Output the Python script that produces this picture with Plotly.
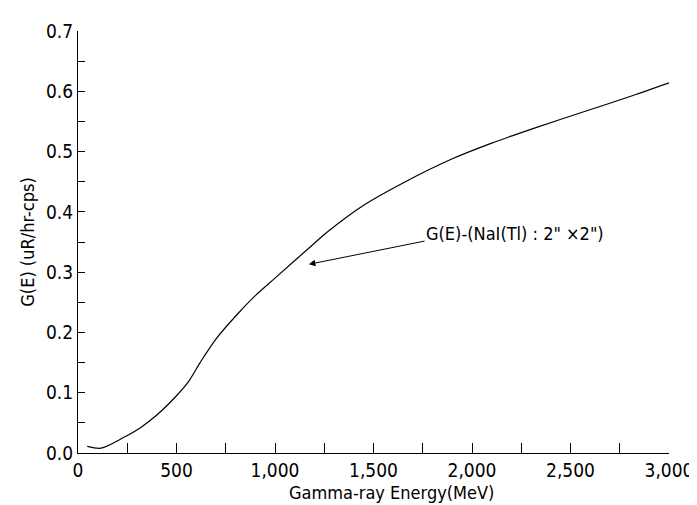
import plotly.graph_objects as go

energy = [47, 117, 233, 317, 400, 500, 560, 620, 700, 817, 900, 1000, 1200, 1267, 1450,
          1650, 1900, 2100, 2317, 2567, 2817, 3000]
g_e = [0.011, 0.008, 0.026, 0.042, 0.063, 0.095, 0.118, 0.150, 0.189, 0.233, 0.261, 0.290,
       0.348, 0.367, 0.411, 0.448, 0.488, 0.514, 0.539, 0.566, 0.593, 0.614]

x_ticks = [0, 500, 1000, 1500, 2000, 2500, 3000]
y_ticks = [0.0, 0.1, 0.2, 0.3, 0.4, 0.5, 0.6, 0.7]

label_text = 'G(E)-(NaI(Tl) : 2" ×2")'
x_title = "Gamma-ray Energy(MeV)"
y_title = "G(E) (uR/hr-cps)"
arrow_tail = (1767, 0.352)
arrow_head = (1172, 0.313)
label_pos = (1755, 0.364)
x_title_pos = 1590

FONT = "DejaVu Sans Condensed, Liberation Sans Narrow, Arial Narrow, sans-serif"

fig = go.Figure()
fig.add_trace(go.Scatter(x=energy, y=g_e, mode="lines",
                         line=dict(color="black", width=1.2, shape="spline", smoothing=0.8),
                         showlegend=False, hoverinfo="skip"))

fig.add_annotation(x=arrow_head[0], y=arrow_head[1], ax=arrow_tail[0], ay=arrow_tail[1],
                   xref="x", yref="y", axref="x", ayref="y", text="",
                   showarrow=True, arrowhead=2, arrowsize=1.3, arrowwidth=1, arrowcolor="black")
fig.add_annotation(x=label_pos[0], y=label_pos[1], xref="x", yref="y", text=label_text,
                   showarrow=False, xanchor="left", yanchor="middle",
                   font=dict(family=FONT, size=18, color="black"))
fig.add_annotation(x=x_title_pos, y=0, xref="x", yref="paper", text=x_title,
                   showarrow=False, xanchor="center", yanchor="top", yshift=-27,
                   font=dict(family=FONT, size=18, color="black"))

fig.update_xaxes(range=[0, 3000], tickvals=x_ticks, ticktext=[f"{v:,}" for v in x_ticks],
                 ticks="inside", ticklen=10, tickcolor="black", tickwidth=1,
                 minor=dict(dtick=250, ticks="inside", ticklen=10, tickcolor="black", tickwidth=1),
                 showline=True, linecolor="black", linewidth=1, showgrid=False, zeroline=False,
                 tickfont=dict(family=FONT, size=19, color="black"))
fig.update_yaxes(range=[0, 0.7], tickvals=y_ticks, ticktext=[f"{v:.1f}" for v in y_ticks],
                 ticks="inside", ticklen=7, tickcolor="black", tickwidth=1,
                 minor=dict(dtick=0.05, ticks="inside", ticklen=7, tickcolor="black", tickwidth=1),
                 showline=True, linecolor="black", linewidth=1, showgrid=False, zeroline=False,
                 tickfont=dict(family=FONT, size=19, color="black"),
                 title=dict(text=y_title, font=dict(family=FONT, size=18, color="black"), standoff=6))

fig.update_layout(width=697, height=505, margin=dict(l=70, r=30, t=18, b=60),
                  plot_bgcolor="white", paper_bgcolor="white")
fig.write_html("out.html")
